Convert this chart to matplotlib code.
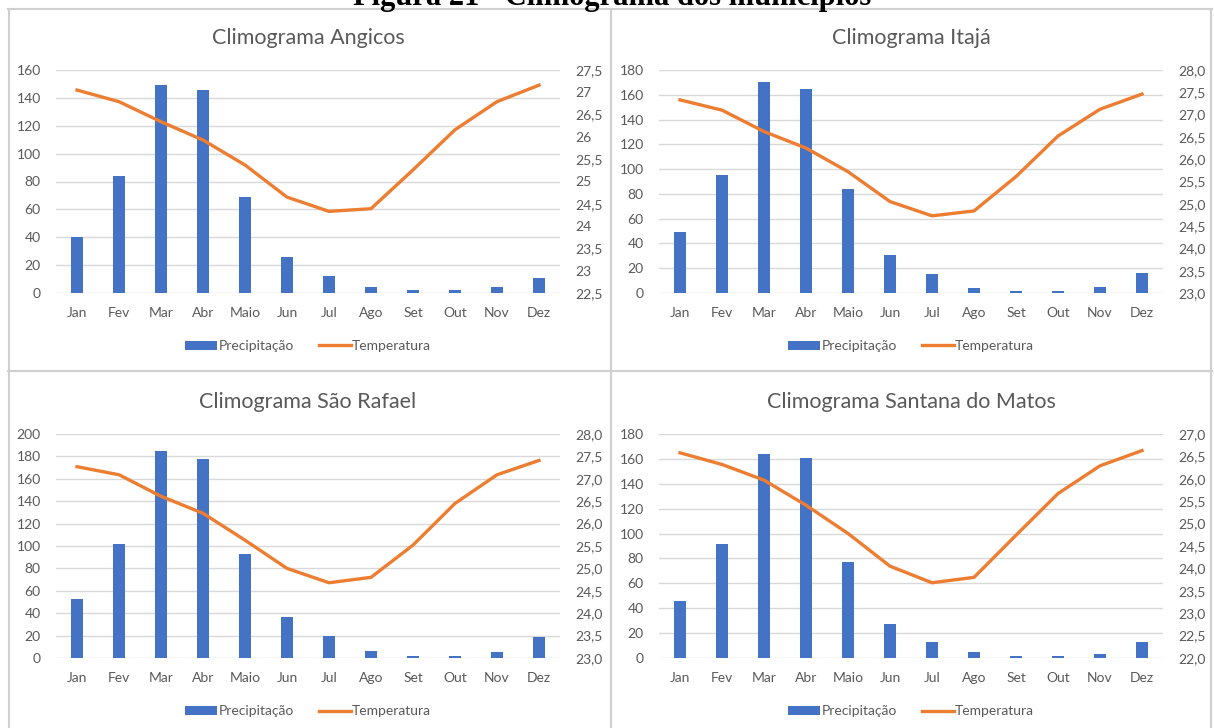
import matplotlib.pyplot as plt
from matplotlib.patches import Patch
from matplotlib.lines import Line2D
import numpy as np

# Data
meses = ["Jan", "Fev", "Mar", "Abr", "Maio", "Jun", "Jul", "Ago", "Set", "Out", "Nov", "Dez"]

prec_angicos = [40, 84, 149, 146, 69, 26, 12, 4, 2, 2, 4, 11]
temp_angicos = [27.05, 26.79, 26.34, 25.93, 25.37, 24.65, 24.33, 24.39, 25.26, 26.16, 26.79, 27.16]

prec_itaja = [49, 95, 170, 165, 84, 31, 15, 4, 2, 2, 5, 16]
temp_itaja = [27.33, 27.10, 26.62, 26.25, 25.72, 25.05, 24.73, 24.84, 25.61, 26.52, 27.12, 27.46]

prec_sao_rafael = [53, 102, 185, 178, 93, 37, 20, 6, 2, 2, 5, 19]
temp_sao_rafael = [27.27, 27.09, 26.61, 26.23, 25.63, 25.00, 24.68, 24.80, 25.52, 26.45, 27.09, 27.41]

prec_santana = [46, 92, 164, 161, 77, 27, 13, 5, 2, 2, 3, 13]
temp_santana = [26.58, 26.32, 25.97, 25.41, 24.78, 24.05, 23.68, 23.80, 24.74, 25.67, 26.29, 26.63]

BLUE = "#4472C4"
ORANGE = "#ED7D31"
GRAY_TXT = "#595959"
GRID = "#D9D9D9"
FONT = ["Lato", "DejaVu Sans"]

plt.rcParams["font.family"] = FONT

fig = plt.figure(figsize=(12.14, 7.28), dpi=100)
W, H = 1214, 728


def px_axes(x0, y0, x1, y1):
    return fig.add_axes([x0 / W, 1 - y1 / H, (x1 - x0) / W, (y1 - y0) / H])


def general(v):
    s = f"{v:g}"
    return s.replace(".", ",")


def one_dec(v):
    return f"{v:.1f}".replace(".", ",")


def climograma(ax, titulo, prec, temp, pmax, tmin, fmt):
    x = np.arange(len(meses))
    ax.bar(x, prec, width=0.3, color=BLUE, zorder=3)
    ax.set_xlim(-0.5, len(meses) - 0.5)
    ax.set_ylim(0, pmax)
    ax.set_yticks(np.arange(0, pmax + 1, 20))
    ax.set_xticks(x)
    ax.set_xticklabels(meses)
    ax.grid(axis="y", color=GRID, linewidth=1.0, zorder=0)
    ax.set_axisbelow(True)
    for s in ax.spines.values():
        s.set_visible(False)
    ax.tick_params(axis="both", length=0, labelsize=10, labelcolor=GRAY_TXT)
    ax.tick_params(axis="x", pad=10)
    ax.tick_params(axis="y", pad=11)

    ax2 = ax.twinx()
    ax2.plot(x, temp, color=ORANGE, linewidth=2.4, zorder=4)
    ax2.set_ylim(tmin, tmin + 5)
    rt = np.arange(tmin, tmin + 5.01, 0.5)
    ax2.set_yticks(rt)
    ax2.set_yticklabels([fmt(v) for v in rt])
    for s in ax2.spines.values():
        s.set_visible(False)
    ax2.tick_params(axis="y", length=0, labelsize=10, labelcolor=GRAY_TXT, pad=11)

    ax.text(0.5, 1.143, titulo, transform=ax.transAxes, ha="center", va="center",
            fontsize=15.5, color=GRAY_TXT)

    handles = [Patch(facecolor=BLUE, edgecolor="none"),
               Line2D([0], [0], color=ORANGE, linewidth=2.4)]
    ax.legend(handles, ["Precipitação", "Temperatura"], loc="center",
              bbox_to_anchor=(0.5, -0.238), ncol=2, frameon=False, fontsize=10,
              labelcolor=GRAY_TXT, handlelength=2.3, handleheight=0.6,
              handletextpad=0.1, columnspacing=1.8)


ax_a = px_axes(56, 70, 560, 293)
climograma(ax_a, "Climograma Angicos", prec_angicos, temp_angicos, 160, 22.5, general)

ax_i = px_axes(659, 70, 1163, 293)
climograma(ax_i, "Climograma Itajá", prec_itaja, temp_itaja, 180, 23.0, one_dec)

ax_s = px_axes(56, 434, 560, 658)
climograma(ax_s, "Climograma São Rafael", prec_sao_rafael, temp_sao_rafael, 200, 23.0, one_dec)

ax_m = px_axes(659, 434, 1163, 658)
climograma(ax_m, "Climograma Santana do Matos", prec_santana, temp_santana, 180, 22.0, one_dec)

# cell borders around the four charts
line_kw = dict(color="#D0D0D0", linewidth=1.5, transform=fig.transFigure)
for yy in (9, 371):
    fig.add_artist(Line2D([8 / W, 1212 / W], [1 - yy / H] * 2, **line_kw))
for xx in (9, 611, 1211):
    fig.add_artist(Line2D([xx / W] * 2, [1 - 9 / H, 0], **line_kw))

# figure caption, partly cut at the top edge
fig.text(612 / W, 1 - 5 / H, "Figura 21 - Climograma dos municípios", ha="center",
         va="baseline", fontsize=22, fontweight="bold", family=["Liberation Serif"])

fig.savefig("out.png", dpi=100)
